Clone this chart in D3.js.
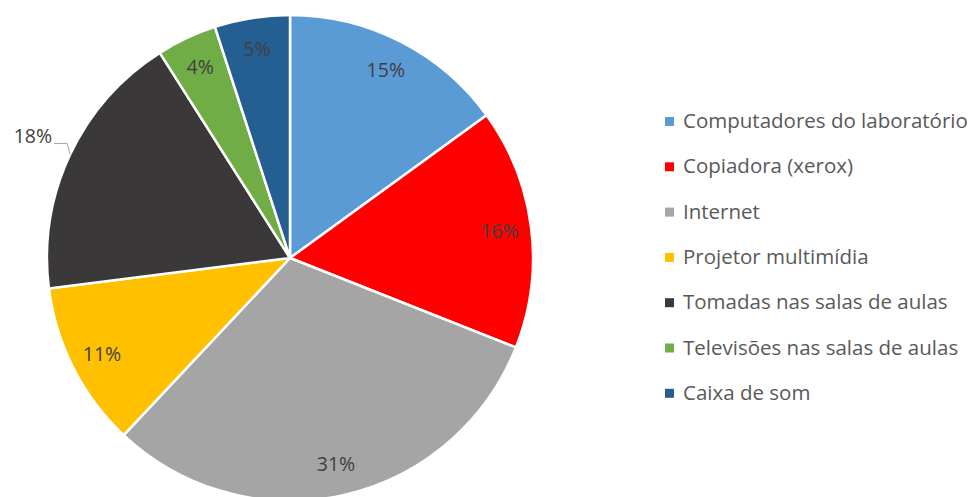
<!DOCTYPE html>
<html>
<head>
<meta charset="utf-8">
<script src="https://cdn.jsdelivr.net/npm/d3@7"></script>
<style>
  body { margin: 0; background: #fff; }
  text { font-family: "Open Sans", "Noto Sans", sans-serif; }
</style>
</head>
<body>
<svg width="976" height="497"></svg>
<script>
// categories and values (percent)
var categories = ["Computadores do laboratório", "Copiadora (xerox)", "Internet", "Projetor multimídia",
                  "Tomadas nas salas de aulas", "Televisões nas salas de aulas", "Caixa de som"];
var values = [15, 16, 31, 11, 18, 4, 5];
var colors = ["#5B9BD5", "#FF0000", "#A5A5A5", "#FFC000", "#3A3838", "#70AD47", "#255E91"];
var outside = [false, false, false, false, true, false, false];

function main() {
    var svg = d3.select("svg"),
        cx = 290, cy = 258,
        radius = 243;

    var data = categories.map(function(c, i) { return { name: c, value: values[i], color: colors[i], outside: outside[i] }; });

    var pie = d3.pie().sort(null).value(function(d) { return d.value; });
    var arc = d3.arc().innerRadius(0).outerRadius(radius);
    var labelArc = d3.arc().innerRadius(211).outerRadius(211);
    var edgeArc = d3.arc().innerRadius(radius).outerRadius(radius);

    var g = svg.append("g").attr("transform", "translate(" + cx + "," + cy + ")");

    var arcs = pie(data);

    g.selectAll("path.slice")
     .data(arcs)
     .enter().append("path")
     .attr("class", "slice")
     .attr("d", arc)
     .attr("fill", function(d) { return d.data.color; })
     .attr("stroke", "#fff")
     .attr("stroke-width", 2.5)
     .attr("stroke-linejoin", "round");

    // inside labels
    g.selectAll("text.lbl")
     .data(arcs.filter(function(d) { return !d.data.outside; }))
     .enter().append("text")
     .attr("class", "lbl")
     .attr("transform", function(d) { return "translate(" + labelArc.centroid(d) + ")"; })
     .attr("text-anchor", "middle")
     .attr("dy", "0.35em")
     .attr("font-size", "19.5px")
     .attr("fill", "#404040")
     .text(function(d) { return d.data.value + "%"; });

    // outside label with leader line
    arcs.filter(function(d) { return d.data.outside; }).forEach(function(d) {
        var p = edgeArc.centroid(d);
        var elbow = [p[0] - 3, p[1] - 11];
        var end = [elbow[0] - 13, elbow[1]];
        g.append("polyline")
         .attr("points", [p, elbow, end].map(function(q) { return q.join(","); }).join(" "))
         .attr("fill", "none")
         .attr("stroke", "#a6a6a6")
         .attr("stroke-width", 1);
        g.append("text")
         .attr("x", end[0] - 2)
         .attr("y", end[1] - 7)
         .attr("text-anchor", "end")
         .attr("dy", "0.35em")
         .attr("font-size", "19.5px")
         .attr("fill", "#404040")
         .text(d.data.value + "%");
    });

    // legend
    var legend = svg.append("g").attr("transform", "translate(665,121)");
    var rowH = 45.3;
    var item = legend.selectAll("g.item")
        .data(data)
        .enter().append("g")
        .attr("class", "item")
        .attr("transform", function(d, i) { return "translate(0," + (i * rowH) + ")"; });

    item.append("rect")
        .attr("x", 0).attr("y", -4)
        .attr("width", 9).attr("height", 9)
        .attr("fill", function(d) { return d.color; });

    item.append("text")
        .attr("x", 18)
        .attr("dy", "0.35em")
        .attr("font-size", "20.5px")
        .attr("fill", "#595959")
        .text(function(d) { return d.name; });
}
main();
</script>
</body>
</html>
